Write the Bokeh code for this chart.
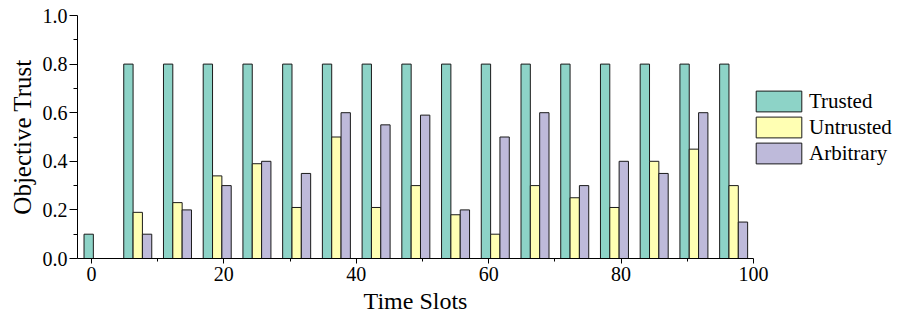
from bokeh.plotting import figure
from bokeh.models import Range1d, Legend, LegendItem, FixedTicker, PrintfTickFormatter, ColumnDataSource
from bokeh.transform import dodge
from bokeh.embed import file_html
from bokeh.resources import INLINE

# Data
time_slots = [1, 7, 13, 19, 25, 31, 37, 43, 49, 55, 61, 67, 73, 79, 85, 91, 97]
trusted = [0.10, 0.80, 0.80, 0.80, 0.80, 0.80, 0.80, 0.80, 0.80, 0.80, 0.80, 0.80, 0.80, 0.80, 0.80, 0.80, 0.80]
untrusted = [0.00, 0.19, 0.23, 0.34, 0.39, 0.21, 0.50, 0.21, 0.30, 0.18, 0.10, 0.30, 0.25, 0.21, 0.40, 0.45, 0.30]
arbitrary = [0.00, 0.10, 0.20, 0.30, 0.40, 0.35, 0.60, 0.55, 0.59, 0.20, 0.50, 0.60, 0.30, 0.40, 0.35, 0.60, 0.15]
x_ticks = [0, 20, 40, 60, 80, 100]
x_minor = [10, 30, 50, 70, 90]
y_ticks = [0.0, 0.2, 0.4, 0.6, 0.8, 1.0]
y_minor = [0.1, 0.3, 0.5, 0.7, 0.9]

FONT = "Liberation Serif"
BAR_W = 1.41

src = ColumnDataSource(dict(x=time_slots, trusted=trusted, untrusted=untrusted, arbitrary=arbitrary))

p = figure(frame_width=676, frame_height=243, x_range=Range1d(-2.1, 100), y_range=Range1d(0, 1),
           output_backend="svg", toolbar_location=None,
           min_border_left=77, min_border_right=4, min_border_top=15, min_border_bottom=60)
p.outline_line_color = None
p.xgrid.visible = False
p.ygrid.visible = False
p.background_fill_color = "white"
p.border_fill_color = "white"

r1 = p.vbar(x=dodge("x", -BAR_W, range=p.x_range), top="trusted", width=BAR_W, source=src,
            fill_color="#8DD3C7", line_color="#1a1a1a", line_width=1)
r2 = p.vbar(x=dodge("x", 0, range=p.x_range), top="untrusted", width=BAR_W, source=src,
            fill_color="#FFFFB3", line_color="#1a1a1a", line_width=1)
r3 = p.vbar(x=dodge("x", BAR_W, range=p.x_range), top="arbitrary", width=BAR_W, source=src,
            fill_color="#BEBADA", line_color="#1a1a1a", line_width=1)

for ax in (p.xaxis[0], p.yaxis[0]):
    ax.axis_line_color = "black"
    ax.axis_line_width = 1
    ax.major_tick_line_color = "black"
    ax.minor_tick_line_color = "black"
    ax.major_tick_in = 0
    ax.minor_tick_in = 0
    ax.major_label_text_font = FONT
    ax.major_label_text_font_size = "20px"
    ax.major_label_text_color = "black"
    ax.axis_label_text_font = FONT
    ax.axis_label_text_font_style = "normal"
    ax.axis_label_text_color = "black"

p.xaxis.major_tick_out = 5
p.xaxis.minor_tick_out = 3
p.yaxis.major_tick_out = 8
p.yaxis.minor_tick_out = 4
p.xaxis.axis_label_text_font_size = "24px"
p.yaxis.axis_label_text_font_size = "25px"
p.xaxis.ticker = FixedTicker(ticks=x_ticks, minor_ticks=x_minor)
p.yaxis.ticker = FixedTicker(ticks=y_ticks, minor_ticks=y_minor)
p.yaxis.formatter = PrintfTickFormatter(format="%.1f")
p.xaxis.axis_label = "Time Slots"
p.yaxis.axis_label = "Objective Trust"
p.xaxis.major_label_standoff = 3
p.yaxis.major_label_standoff = 2
p.xaxis.axis_label_standoff = 4
p.yaxis.axis_label_standoff = 4

legend = Legend(items=[LegendItem(label="Trusted", renderers=[r1]),
                       LegendItem(label="Untrusted", renderers=[r2]),
                       LegendItem(label="Arbitrary", renderers=[r3])],
                location=(-3, 92))
legend.glyph_width = 57
legend.glyph_height = 26
legend.label_height = 26
legend.spacing = 0
legend.padding = 0
legend.margin = 0
legend.label_standoff = 2
legend.border_line_color = None
legend.background_fill_alpha = 0
legend.label_text_font = FONT
legend.label_text_font_size = "21px"
legend.label_text_color = "black"
p.add_layout(legend, "right")

open("out.html", "w").write(file_html(p, INLINE))
